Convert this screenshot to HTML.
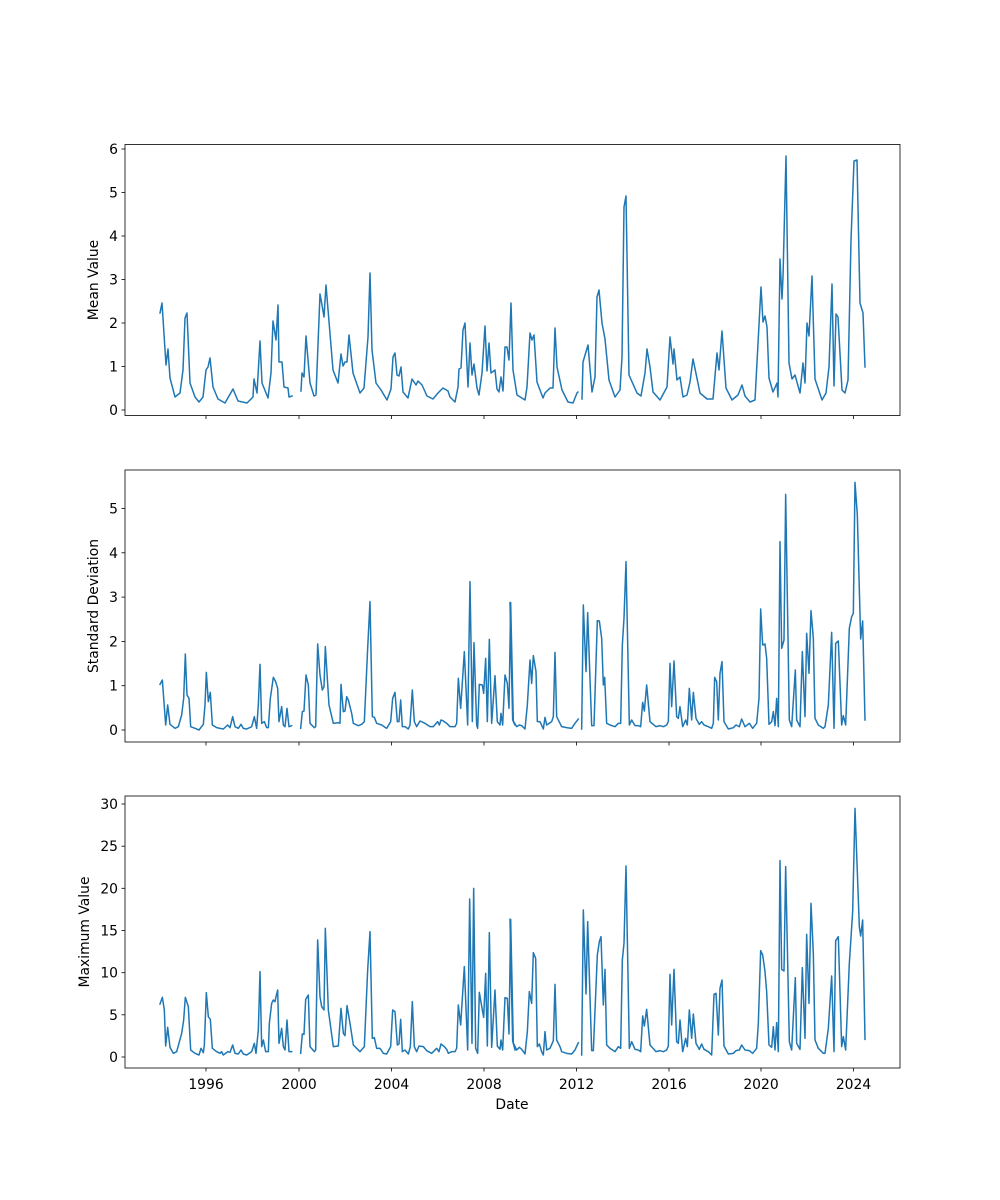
<!DOCTYPE html>
<html><head><meta charset="utf-8"><style>
html,body{margin:0;padding:0;background:#fff}
svg{display:block}
text{font-family:"DejaVu Sans","Liberation Sans",sans-serif;font-size:13.9px;fill:#000}
.ln{fill:none;stroke:#1f77b4;stroke-width:1.5;stroke-linejoin:round;stroke-linecap:square}
.lz{fill:none;stroke:#1f77b4;stroke-width:4.5;stroke-linejoin:round;stroke-linecap:square}
.fr{fill:none;stroke:#000;stroke-width:0.8}
.tk{stroke:#000;stroke-width:0.8}
</style></head><body>
<svg width="1000" height="1200" viewBox="0 0 1000 1200" xmlns="http://www.w3.org/2000/svg">
<!-- TOP -->
<polyline class="ln" points="160,313 162,303 166,365 168,349 170,378 175,397 180,393 183,370 185,318 187,313 190,383 195,397 199,402 203,397 206,370 208,367 210,358 213,387 218,399 225,403 233,389 238,401 247,403 253,397 254,379 257,393 260,341 262,383 268,398 271,373 273,321 276,340 278,305 279,362 282,362 284,387 288,388 289,397 292,396"/>
<polyline class="ln" points="301,391 302,373 304,377 306,336 310,383 314,396 316,395 320,294 322,305 324,317 326,285 333,370 338,383 341,354 343,366 345,362 347,362 349,335 353,373 360,393 364,388 368,337 370,273 372,350 376,383 381,390 387,400 391,389 393,357 395,353 397,375 399,376 401,367 403,392 408,398 412,379 416,385 418,381 422,385 427,396 433,399 438,393 443,388 448,391 450,397 455,402 458,387 459,369 461,368 463,330 465,323 468,387 470,343 472,375 474,364 477,388 479,395 482,373 485,326 487,371 489,343 491,373 495,370 497,389 499,392 501,377 503,391 505,347 507,347 509,360 511,303 513,370 517,395 525,400 527,387 530,333 532,340 534,335 537,382 543,398 545,393 550,388 553,388 555,328 557,367 562,390 568,402 573,403 577,393 578,392"/>
<polyline class="ln" points="582,399 583,362 588,345 592,392 595,377 597,297 599,290 602,323 605,339 609,380 615,397 620,390 622,357 624,207 626,196 629,375 637,393 641,396 645,373 647,349 650,367 653,392 660,400 667,387 670,337 673,364 674,349 677,380 680,377 683,397 687,395 690,382 693,359 700,393 707,399 713,399 717,353 719,370 722,331 726,388 732,400 738,395 742,385 745,396 750,402 755,400 761,287 763,322 765,316 767,327 769,378 773,392 777,383 778,397 780,259 782,299 783,277 786,156 789,363 792,379 795,375 800,393 803,363 805,383 807,323 809,336 812,276 815,379 822,400 826,393 829,367 832,284 834,386 836,314 838,317 842,390 845,393 848,380 851,240 854,161 857,160 860,303 863,313 865,367"/>
<rect class="fr" x="125" y="144.5" width="775" height="271"/>
<g class="tk">
<line x1="206" y1="415.5" x2="206" y2="419"/><line x1="299" y1="415.5" x2="299" y2="419"/><line x1="391.5" y1="415.5" x2="391.5" y2="419"/><line x1="484" y1="415.5" x2="484" y2="419"/><line x1="576.5" y1="415.5" x2="576.5" y2="419"/><line x1="669" y1="415.5" x2="669" y2="419"/><line x1="761" y1="415.5" x2="761" y2="419"/><line x1="853.5" y1="415.5" x2="853.5" y2="419"/>
<line x1="121.5" y1="410" x2="125" y2="410"/><line x1="121.5" y1="366.5" x2="125" y2="366.5"/><line x1="121.5" y1="323" x2="125" y2="323"/><line x1="121.5" y1="279.5" x2="125" y2="279.5"/><line x1="121.5" y1="236" x2="125" y2="236"/><line x1="121.5" y1="192.5" x2="125" y2="192.5"/><line x1="121.5" y1="149" x2="125" y2="149"/>
</g>
<g text-anchor="end">
<text x="118" y="415">0</text><text x="118" y="371.5">1</text><text x="118" y="328">2</text><text x="118" y="284.5">3</text><text x="118" y="241">4</text><text x="118" y="197.5">5</text><text x="118" y="154">6</text>
</g>
<text transform="translate(98,280) rotate(-90)" text-anchor="middle">Mean Value</text>

<!-- MIDDLE -->
<g transform="translate(125,465) scale(0.33333)">
<polyline class="lz" points="105,658 112,645 122,780 128,720 135,778 150,790 160,785 170,750 176,700 181,567 186,690 192,700 197,785 210,790 222,795 235,778 240,720 244,622 250,710 256,682 262,780 275,788 285,790 295,792 308,780 315,788 323,755 330,785 340,790 348,778 355,790 365,792 380,785 388,755 395,790 400,720 405,598 410,775 418,770 425,788 430,788 436,700 445,637 452,650 458,670 462,770 470,725 475,780 480,785 486,730 492,785 500,782"/>
<polyline class="lz" points="527,790 532,740 537,738 543,630 550,660 555,775 568,788 572,785 578,537 585,630 592,675 597,665 601,545 612,720 625,775 640,773 645,775 648,658 655,740 660,738 665,695 670,705 680,745 685,775 700,782 710,778 718,770 728,550 735,410 742,755 748,757 755,775 770,780 785,790 797,770 803,700 810,682 817,770 822,770 827,705 832,785 840,785 850,792 855,780 862,675 868,770 875,785 885,768 900,775 915,785 925,785 938,770 943,780 948,765 955,768 965,775 975,785 990,785 995,775 1000,640 1007,730 1018,560 1028,780 1035,350 1042,770 1047,533 1055,780 1058,790 1063,658 1072,660 1076,685 1082,580 1087,770 1093,523 1100,775 1110,632 1117,770 1125,780 1128,745 1133,780 1140,630 1147,655 1152,730 1157,413 1165,770 1170,780"/>
</g>
<g transform="translate(510,465) scale(0.33333)">
<polyline class="lz" points="0,413 8,765 20,785 28,780 35,782 45,792 52,720 60,585 65,655 70,572 78,620 82,770 90,770 100,792 105,757 110,780 125,770 130,755 135,562 140,755 150,775 155,785 170,788 185,790 195,775 205,762"/>
<polyline class="lz" points="215,792 220,420 228,620 233,443 245,782 252,782 262,467 268,468 275,520 280,660 284,637 290,775 300,780 315,785 325,775 332,775 337,540 342,460 348,290 358,780 365,765 375,782 385,782 392,785 398,712 403,738 410,660 420,770 438,785 450,782 460,785 470,780 475,770 480,595 485,725 492,588 500,755 505,760 510,725 518,785 527,765 532,780 538,670 545,765 550,682 558,760 568,778 575,770 582,780 595,785 605,790 610,775 614,637 620,650 625,765 630,625 636,590 642,770 655,792 670,788 678,780 688,785 695,762 705,785 718,775 728,790 740,775 747,700 752,432 758,540 765,537 770,580 777,778 785,770 790,740 795,782 800,700 805,785 810,230 815,550 822,525 827,88 838,765 845,785 856,615 860,765 870,785 877,560 885,755 890,505 897,625 903,437 910,520 915,760 925,780 940,790 945,785 955,720 965,502 972,790 977,535 985,528 995,780 1000,752 1007,780 1018,490 1025,455 1030,445 1035,52 1042,150 1052,522 1058,468 1065,765"/>
</g>
<rect class="fr" x="125" y="470" width="775" height="272"/>
<g class="tk">
<line x1="206" y1="742" x2="206" y2="745.5"/><line x1="299" y1="742" x2="299" y2="745.5"/><line x1="391.5" y1="742" x2="391.5" y2="745.5"/><line x1="484" y1="742" x2="484" y2="745.5"/><line x1="576.5" y1="742" x2="576.5" y2="745.5"/><line x1="669" y1="742" x2="669" y2="745.5"/><line x1="761" y1="742" x2="761" y2="745.5"/><line x1="853.5" y1="742" x2="853.5" y2="745.5"/>
<line x1="121.5" y1="730" x2="125" y2="730"/><line x1="121.5" y1="685.7" x2="125" y2="685.7"/><line x1="121.5" y1="641.4" x2="125" y2="641.4"/><line x1="121.5" y1="597.1" x2="125" y2="597.1"/><line x1="121.5" y1="552.8" x2="125" y2="552.8"/><line x1="121.5" y1="508.5" x2="125" y2="508.5"/>
</g>
<g text-anchor="end">
<text x="118" y="735">0</text><text x="118" y="690.7">1</text><text x="118" y="646.4">2</text><text x="118" y="602.1">3</text><text x="118" y="557.8">4</text><text x="118" y="513.5">5</text>
</g>
<text transform="translate(98,606) rotate(-90)" text-anchor="middle">Standard Deviation</text>

<!-- BOTTOM -->
<g transform="translate(125,790) scale(0.33333)">
<polyline class="lz" points="105,642 112,622 118,660 122,768 128,712 135,772 145,790 155,785 170,730 176,690 181,622 190,650 197,780 210,790 222,795 228,775 235,788 238,765 244,608 250,680 256,688 262,775 275,785 285,790 290,785 295,795 308,785 315,787 323,765 330,790 340,792 348,780 355,792 365,795 380,785 388,760 393,790 400,720 405,545 410,770 415,750 422,785 430,785 433,700 440,640 445,630 450,635 453,620 458,600 462,760 470,715 475,770 480,780 486,690 492,785 500,785"/>
<polyline class="lz" points="527,790 532,732 537,733 542,628 550,615 555,770 568,785 572,780 578,450 585,620 590,650 597,660 601,415 610,660 625,770 640,768 648,655 655,730 660,737 666,647 675,700 685,765 695,775 705,785 718,770 728,540 735,425 742,745 748,743 755,775 765,775 775,790 785,792 797,770 803,660 810,665 817,765 822,762 827,688 832,785 840,780 850,792 856,770 862,635 868,770 875,785 882,768 895,770 905,782 920,790 935,775 942,785 948,762 958,770 965,778 970,790 980,785 990,785 995,775 1000,645 1007,705 1018,530 1028,780 1034,327 1041,760 1046,295 1052,775 1058,790 1063,607 1072,660 1076,682 1082,550 1087,768 1093,428 1100,772 1110,600 1117,768 1125,778 1128,750 1133,780 1140,623 1147,625 1152,732 1157,388 1165,760 1170,780"/>
</g>
<g transform="translate(510,790) scale(0.33333)">
<polyline class="lz" points="0,388 8,755 20,780 28,772 35,778 45,792 52,725 58,605 65,640 70,488 77,505 82,770 88,762 95,785 100,795 105,725 110,780 120,775 130,752 135,583 140,750 150,770 155,785 170,790 185,792 195,780 205,758"/>
<polyline class="lz" points="215,795 220,360 228,612 233,395 245,782 250,782 262,495 268,455 273,440 280,645 285,538 290,765 300,775 315,785 325,770 332,775 337,510 342,460 348,228 358,775 365,755 375,778 385,780 392,785 398,678 403,708 410,658 420,765 438,785 450,782 460,785 470,780 475,768 480,553 485,705 492,538 500,755 505,760 510,690 518,785 527,745 532,770 538,660 545,745 550,672 558,760 568,778 575,762 582,778 595,785 605,795 612,613 618,610 625,735 630,595 636,570 642,768 655,792 670,790 678,782 688,780 695,765 705,780 718,782 728,790 740,775 745,700 752,482 758,495 765,545 770,605 777,765 785,772 790,710 795,780 800,698 805,785 810,212 815,538 822,543 827,230 838,755 845,780 856,563 860,760 870,778 877,533 885,745 890,433 897,640 903,340 910,490 915,750 925,775 940,790 945,790 955,715 965,558 972,785 977,452 985,440 995,770 1000,740 1007,780 1018,520 1028,365 1035,55 1048,410 1052,438 1058,390 1065,748"/>
</g>
<rect class="fr" x="125" y="796" width="775" height="272"/>
<g class="tk">
<line x1="206" y1="1068" x2="206" y2="1071.5"/><line x1="299" y1="1068" x2="299" y2="1071.5"/><line x1="391.5" y1="1068" x2="391.5" y2="1071.5"/><line x1="484" y1="1068" x2="484" y2="1071.5"/><line x1="576.5" y1="1068" x2="576.5" y2="1071.5"/><line x1="669" y1="1068" x2="669" y2="1071.5"/><line x1="761" y1="1068" x2="761" y2="1071.5"/><line x1="853.5" y1="1068" x2="853.5" y2="1071.5"/>
<line x1="121.5" y1="1057" x2="125" y2="1057"/><line x1="121.5" y1="1014.8" x2="125" y2="1014.8"/><line x1="121.5" y1="972.7" x2="125" y2="972.7"/><line x1="121.5" y1="930.5" x2="125" y2="930.5"/><line x1="121.5" y1="888.3" x2="125" y2="888.3"/><line x1="121.5" y1="846.2" x2="125" y2="846.2"/><line x1="121.5" y1="804" x2="125" y2="804"/>
</g>
<g text-anchor="end">
<text x="118" y="1062">0</text><text x="118" y="1019.8">5</text><text x="118" y="977.7">10</text><text x="118" y="935.5">15</text><text x="118" y="893.3">20</text><text x="118" y="851.2">25</text><text x="118" y="809">30</text>
</g>
<g text-anchor="middle">
<text x="206" y="1089">1996</text><text x="299" y="1089">2000</text><text x="391.5" y="1089">2004</text><text x="484" y="1089">2008</text><text x="576.5" y="1089">2012</text><text x="669" y="1089">2016</text><text x="761" y="1089">2020</text><text x="853.5" y="1089">2024</text>
<text x="512" y="1109">Date</text>
</g>
<text transform="translate(89,932) rotate(-90)" text-anchor="middle">Maximum Value</text>
</svg>
</body></html>
